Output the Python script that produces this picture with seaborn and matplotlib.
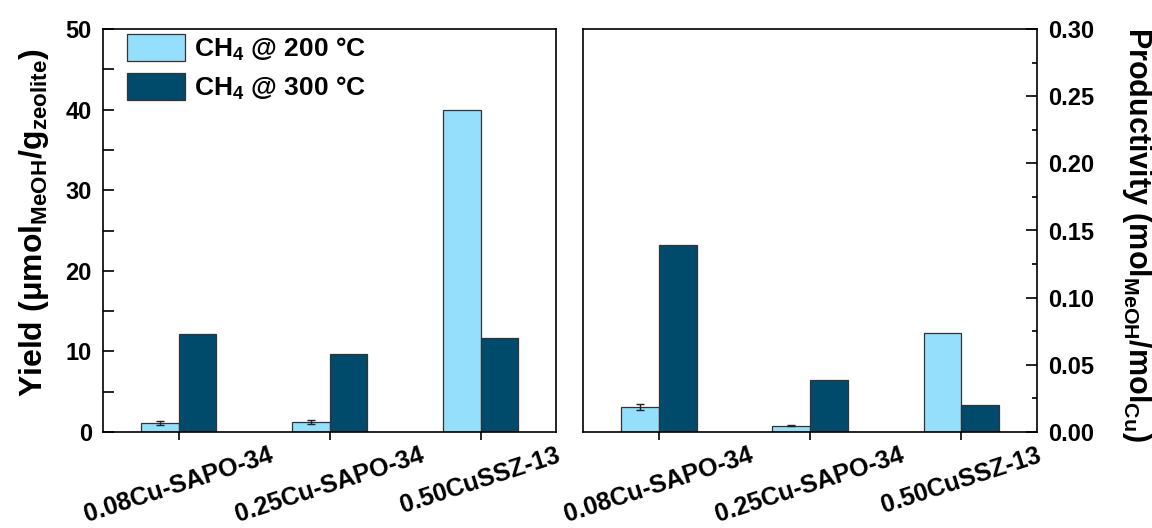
import matplotlib
matplotlib.use("Agg")
import matplotlib.pyplot as plt
from matplotlib.ticker import MultipleLocator, FormatStrFormatter
import numpy as np
import pandas as pd
import seaborn as sns

# ---- data ----
categories = ["0.08Cu-SAPO-34", "0.25Cu-SAPO-34", "0.50CuSSZ-13"]
series = ["CH$_4$ @ 200 °C", "CH$_4$ @ 300 °C"]
yield_200 = [1.1, 1.25, 40.0]
yield_300 = [12.1, 9.7, 11.7]
yield_200_err = [0.25, 0.2, 0.0]
prod_200 = [0.0188, 0.0047, 0.074]
prod_300 = [0.139, 0.039, 0.020]
prod_200_err = [0.0022, 0.0005, 0.0]

light = "#95DEFC"
dark = "#004A6B"

df = pd.DataFrame({
    "sample": categories * 2,
    "series": [series[0]] * 3 + [series[1]] * 3,
    "yield": yield_200 + yield_300,
    "prod": prod_200 + prod_300,
})

plt.rcParams["font.family"] = ["Liberation Sans", "DejaVu Sans"]
plt.rcParams["font.weight"] = "bold"
plt.rcParams["mathtext.fontset"] = "custom"
plt.rcParams["mathtext.rm"] = "Liberation Sans:bold"
plt.rcParams["mathtext.it"] = "Liberation Sans:bold"
plt.rcParams["mathtext.bf"] = "Liberation Sans:bold"
plt.rcParams["axes.linewidth"] = 1.2

TICK = 17
XT = 18
LEG = 19

W, H = 1152, 528
fig = plt.figure(figsize=(W / 100, H / 100), dpi=100)
ax1 = fig.add_axes([103 / W, 1 - 432 / H, (556 - 103) / W, (432 - 29) / H])
ax2 = fig.add_axes([583 / W, 1 - 432 / H, (1037 - 583) / W, (432 - 29) / H])

for ax, col, err, ylim, maj, mnr in [
    (ax1, "yield", yield_200_err, (0, 50), 10, 5),
    (ax2, "prod", prod_200_err, (0, 0.30), 0.05, 0.025),
]:
    sns.barplot(data=df, x="sample", y=col, hue="series", hue_order=series,
                order=categories, palette=[light, dark], saturation=1,
                width=0.5, gap=0, edgecolor="#333333", linewidth=0.9,
                errorbar=None, ax=ax)
    cont = ax.containers[0]
    xs, hs, es = [], [], []
    for p, e in zip(cont, err):
        if e > 0:
            xs.append(p.get_x() + p.get_width() / 2)
            hs.append(p.get_height())
            es.append(e)
    ax.errorbar(xs, hs, yerr=es, fmt="none", ecolor="#222222", elinewidth=1.0,
                capsize=3.2, capthick=1.0, zorder=5)
    ax.set_xlim(-0.5, 2.5)
    ax.set_ylim(*ylim)
    ax.yaxis.set_major_locator(MultipleLocator(maj))
    ax.yaxis.set_minor_locator(MultipleLocator(mnr))
    ax.set_xlabel("")
    ax.tick_params(axis="x", which="major", direction="out", length=6, width=1.2,
                   labelsize=XT, pad=2, top=False)
    plt.setp(ax.get_xticklabels(), rotation=18, ha="center", va="top",
             fontweight="bold")
    for s in ax.spines.values():
        s.set_color("black")
        s.set_linewidth(1.2)

ax2.yaxis.set_major_formatter(FormatStrFormatter("%.2f"))

ax1.tick_params(axis="y", which="major", direction="in", length=8, width=1.2,
                labelsize=TICK, left=True, right=False, pad=8)
ax1.tick_params(axis="y", which="minor", direction="in", length=8, width=1.2,
                left=True, right=False)
ax1.set_ylabel("Yield (μmol$_{MeOH}$/g$_{zeolite}$)", fontsize=23,
               fontweight="bold")
ax1.yaxis.set_label_coords((34 - 103) / 453, 0.52)
ax1.yaxis.label.set_va("center")

ax2.yaxis.tick_right()
ax2.yaxis.set_label_position("right")
ax2.tick_params(axis="y", which="major", direction="in", length=8, width=1.2,
                labelsize=TICK, left=False, right=True, pad=8)
ax2.tick_params(axis="y", which="minor", direction="in", length=3.5, width=1.2,
                left=False, right=True)
ax2.set_ylabel("Productivity (mol$_{MeOH}$/mol$_{Cu}$)", fontsize=22,
               fontweight="bold", rotation=270)
ax2.yaxis.set_label_coords((1137 - 583) / 454, 0.49)
ax2.yaxis.label.set_va("center")
ax2.yaxis.label.set_ha("center")

for t in ax1.get_yticklabels() + ax2.get_yticklabels():
    t.set_fontweight("bold")

ax2.get_legend().remove()
handles, labels = ax1.get_legend_handles_labels()
ax1.legend(handles, labels, loc="upper left", frameon=False,
           handlelength=2.2, handleheight=1.2, handletextpad=0.34,
           labelspacing=0.4, borderaxespad=0, borderpad=0,
           bbox_to_anchor=((127 - 103) / 453, 1 - 5 / 403),
           prop={"weight": "bold", "size": LEG})

fig.savefig("out.png", dpi=100)
